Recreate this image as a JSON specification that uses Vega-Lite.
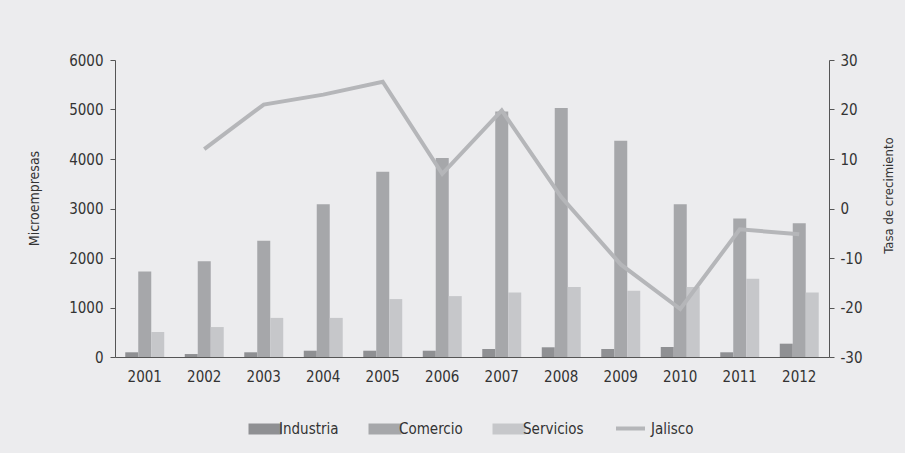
{
  "$schema": "https://vega.github.io/schema/vega-lite/v6.json",
  "autosize": {"type": "none"},
  "width": 714,
  "height": 297,
  "padding": {"left": 115, "top": 60, "right": 76, "bottom": 96},
  "background": "#ececee",
  "config": {
    "view": {"stroke": null},
    "font": "DejaVu Sans Condensed",
    "axis": {
      "labelFont": "DejaVu Sans Condensed",
      "labelFontSize": 15,
      "labelColor": "#333333",
      "titleFont": "DejaVu Sans Condensed",
      "titleFontSize": 14,
      "titleFontWeight": "normal",
      "titleColor": "#333333",
      "domainColor": "#555555",
      "tickColor": "#555555",
      "grid": false
    },
    "legend": {
      "labelFont": "DejaVu Sans Condensed",
      "labelFontSize": 15,
      "labelColor": "#333333"
    }
  },
  "datasets": {
    "micro": [
      {"anio": "2001", "sector": "Industria", "valor": 95},
      {"anio": "2001", "sector": "Comercio", "valor": 1725},
      {"anio": "2001", "sector": "Servicios", "valor": 505},
      {"anio": "2002", "sector": "Industria", "valor": 60},
      {"anio": "2002", "sector": "Comercio", "valor": 1935},
      {"anio": "2002", "sector": "Servicios", "valor": 605},
      {"anio": "2003", "sector": "Industria", "valor": 95},
      {"anio": "2003", "sector": "Comercio", "valor": 2350},
      {"anio": "2003", "sector": "Servicios", "valor": 790},
      {"anio": "2004", "sector": "Industria", "valor": 127},
      {"anio": "2004", "sector": "Comercio", "valor": 3085},
      {"anio": "2004", "sector": "Servicios", "valor": 790},
      {"anio": "2005", "sector": "Industria", "valor": 127},
      {"anio": "2005", "sector": "Comercio", "valor": 3740},
      {"anio": "2005", "sector": "Servicios", "valor": 1170},
      {"anio": "2006", "sector": "Industria", "valor": 127},
      {"anio": "2006", "sector": "Comercio", "valor": 4020},
      {"anio": "2006", "sector": "Servicios", "valor": 1230},
      {"anio": "2007", "sector": "Industria", "valor": 162},
      {"anio": "2007", "sector": "Comercio", "valor": 4960},
      {"anio": "2007", "sector": "Servicios", "valor": 1305},
      {"anio": "2008", "sector": "Industria", "valor": 196},
      {"anio": "2008", "sector": "Comercio", "valor": 5030},
      {"anio": "2008", "sector": "Servicios", "valor": 1415},
      {"anio": "2009", "sector": "Industria", "valor": 162},
      {"anio": "2009", "sector": "Comercio", "valor": 4370},
      {"anio": "2009", "sector": "Servicios", "valor": 1340},
      {"anio": "2010", "sector": "Industria", "valor": 202},
      {"anio": "2010", "sector": "Comercio", "valor": 3085},
      {"anio": "2010", "sector": "Servicios", "valor": 1415},
      {"anio": "2011", "sector": "Industria", "valor": 95},
      {"anio": "2011", "sector": "Comercio", "valor": 2800},
      {"anio": "2011", "sector": "Servicios", "valor": 1580},
      {"anio": "2012", "sector": "Industria", "valor": 269},
      {"anio": "2012", "sector": "Comercio", "valor": 2700},
      {"anio": "2012", "sector": "Servicios", "valor": 1305}
    ],
    "tasa": [
      {"anio": "2002", "tasa": 12},
      {"anio": "2003", "tasa": 21},
      {"anio": "2004", "tasa": 23},
      {"anio": "2005", "tasa": 25.6},
      {"anio": "2006", "tasa": 7},
      {"anio": "2007", "tasa": 19.8},
      {"anio": "2008", "tasa": 2.3},
      {"anio": "2009", "tasa": -11.3},
      {"anio": "2010", "tasa": -20.3},
      {"anio": "2011", "tasa": -4.2},
      {"anio": "2012", "tasa": -5.2}
    ]
  },
  "layer": [
    {
      "data": {"name": "micro"},
      "mark": {"type": "bar"},
      "encoding": {
        "x": {
          "field": "anio",
          "type": "ordinal",
          "scale": {"paddingInner": 0.345, "paddingOuter": 0.1725},
          "axis": {"title": null, "labelAngle": 0, "ticks": false, "labelPadding": 12}
        },
        "xOffset": {
          "field": "sector",
          "type": "nominal",
          "scale": {"domain": ["Industria", "Comercio", "Servicios"], "paddingInner": 0, "paddingOuter": 0}
        },
        "y": {
          "field": "valor",
          "type": "quantitative",
          "scale": {"domain": [0, 6000], "nice": false},
          "axis": {
            "title": "Microempresas",
            "values": [0, 1000, 2000, 3000, 4000, 5000, 6000],
            "labelExpr": "'' + datum.value",
            "tickSize": 5,
            "labelPadding": 7,
            "titleAngle": -90,
            "titleX": -81,
            "titleY": 138,
            "titleAlign": "center",
            "titleBaseline": "middle"
          }
        },
        "color": {
          "field": "sector",
          "type": "nominal",
          "scale": {
            "domain": ["Industria", "Comercio", "Servicios"],
            "range": ["#8f9093", "#a6a7aa", "#c6c7ca"]
          },
          "legend": {
            "title": null,
            "orient": "none",
            "direction": "horizontal",
            "legendX": 139,
            "legendY": 358,
            "symbolType": "M-1.5,-0.5L1.5,-0.5L1.5,0.5L-1.5,0.5Z",
            "symbolSize": 484,
            "symbolStrokeWidth": 0,
            "symbolOpacity": 1,
            "labelOffset": 3,
            "columnPadding": 29
          }
        }
      }
    },
    {
      "data": {"name": "tasa"},
      "mark": {"type": "line", "strokeWidth": 4},
      "encoding": {
        "x": {"field": "anio", "type": "ordinal"},
        "y": {
          "field": "tasa",
          "type": "quantitative",
          "scale": {"domain": [-30, 30], "nice": false},
          "axis": {
            "orient": "right",
            "title": "Tasa de crecimiento",
            "values": [-30, -20, -10, 0, 10, 20, 30],
            "labelExpr": "'' + datum.value",
            "tickSize": 5,
            "labelPadding": 6,
            "titleFontSize": 13,
            "titleAngle": -90,
            "titleX": 59,
            "titleY": 135,
            "titleAlign": "center",
            "titleBaseline": "middle"
          }
        },
        "stroke": {
          "datum": "Jalisco",
          "type": "nominal",
          "scale": {"domain": ["Jalisco"], "range": ["#b5b6b9"]},
          "legend": {
            "title": null,
            "orient": "none",
            "direction": "horizontal",
            "legendX": 499,
            "legendY": 352,
            "symbolType": "stroke",
            "symbolSize": 841,
            "symbolStrokeWidth": 4,
            "labelOffset": 4
          }
        }
      }
    }
  ],
  "resolve": {"scale": {"y": "independent"}}
}
